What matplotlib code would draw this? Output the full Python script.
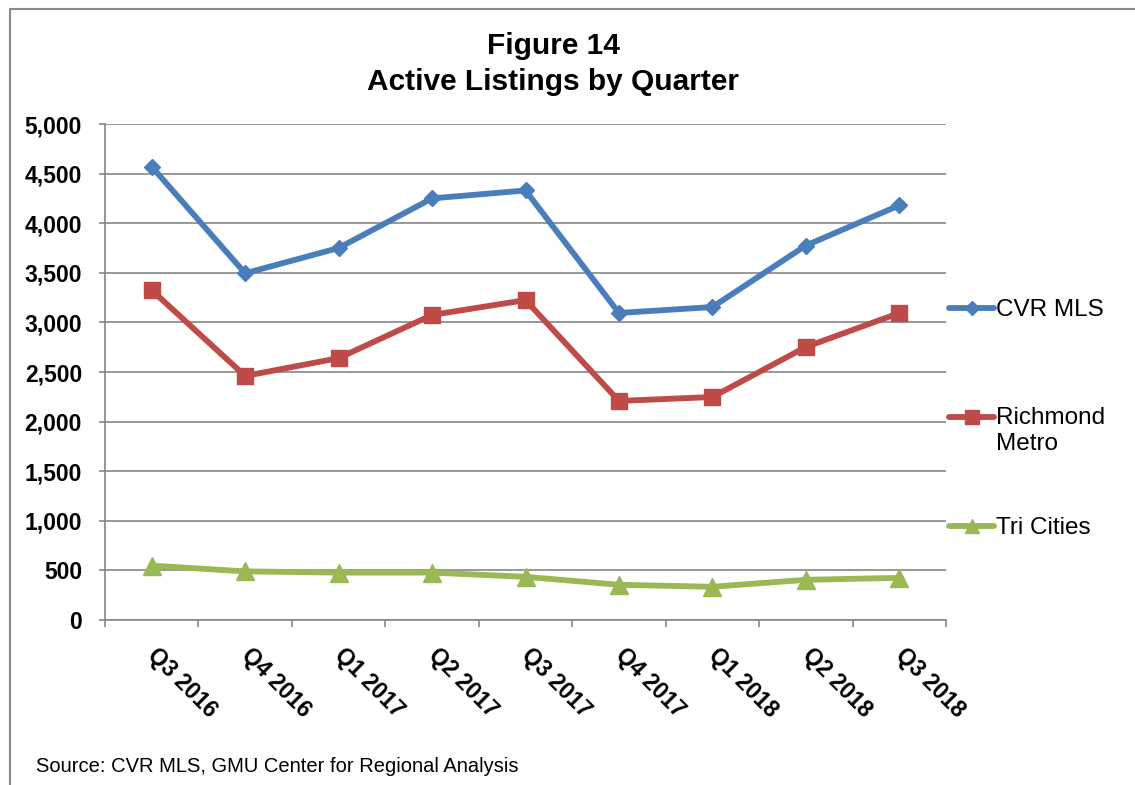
import matplotlib
matplotlib.use("Agg")
import matplotlib.pyplot as plt
from matplotlib.lines import Line2D
from matplotlib.transforms import ScaledTranslation
import numpy as np

plt.rcParams['font.family'] = ['Liberation Sans', 'DejaVu Sans']

quarters = ["Q3 2016", "Q4 2016", "Q1 2017", "Q2 2017", "Q3 2017",
            "Q4 2017", "Q1 2018", "Q2 2018", "Q3 2018"]
cvr_mls = [4570, 3495, 3750, 4250, 4330, 3095, 3155, 3775, 4180]
richmond = [3325, 2460, 2640, 3075, 3225, 2208, 2248, 2752, 3095]
tri_cities = [548, 490, 478, 478, 435, 355, 335, 405, 425]

series = [
    ("CVR MLS", cvr_mls, "#4A7EBB", "D", 8.5),
    ("Richmond\nMetro", richmond, "#BE4B48", "s", 12),
    ("Tri Cities", tri_cities, "#98B954", "^", 12.5),
]

W, H = 1135, 785
fig = plt.figure(figsize=(W / 100, H / 100), dpi=100)
ax = fig.add_axes([105 / W, 1 - 620 / H, (946 - 105) / W, (620 - 124) / H])

x = np.arange(len(quarters))
for name, vals, col, mk, ms in series:
    ax.plot(x, vals, color=col, lw=4.2, marker=mk, markersize=ms,
            markerfacecolor=col, markeredgecolor=col, solid_joinstyle='miter', zorder=3)

grey = "#868686"
ax.set_xlim(-0.5, len(quarters) - 0.5)
ax.set_ylim(0, 5000)
ax.set_yticks(np.arange(0, 5001, 500))
ax.set_yticklabels([f"{v:,}" for v in range(0, 5001, 500)], fontsize=16.5, fontweight='bold')
ax.grid(axis='y', color=grey, lw=1.2)
ax.set_axisbelow(True)

ax.set_xticks(x)
ax.set_xticklabels(quarters, fontsize=16.5, fontweight='bold', rotation=-45,
                   ha='left', va='top', rotation_mode='anchor')
ax.set_xticks(np.arange(-0.5, len(quarters), 1), minor=True)
ax.tick_params(axis='x', which='major', length=0, pad=17)
ax.tick_params(axis='x', which='minor', length=5, width=1.2, color=grey, direction='out')
ax.tick_params(axis='y', length=4.5, width=1.2, color=grey, pad=12)
shift = ScaledTranslation(8 / 100, 0, fig.dpi_scale_trans)
for lab in ax.get_xticklabels():
    lab.set_transform(lab.get_transform() + shift)

for s in ['top', 'right']:
    ax.spines[s].set_visible(False)
for s in ['left', 'bottom']:
    ax.spines[s].set_color(grey)
    ax.spines[s].set_linewidth(1.2)

# legend on the right, drawn by hand so the handle sits on the first text line
leg_y = [308, 417, 526]
text_y = [308, 427, 526]
for (name, vals, col, mk, ms), yy, ty in zip(series, leg_y, text_y):
    fy = 1 - yy / H
    fig.add_artist(Line2D([949 / W, 971.5 / W, 994 / W], [fy, fy, fy], color=col, lw=4.2,
                          marker=mk, markersize=ms * 0.8, markevery=[1],
                          solid_capstyle='round', transform=fig.transFigure))
    fig.text(996 / W, 1 - ty / H, name, fontsize=17.5, va='center_baseline', ha='left')

fig.text(553 / W, 1 - 57 / H, "Figure 14\nActive Listings by Quarter", fontsize=21.5,
         fontweight='bold', ha='center', va='center_baseline', linespacing=1.35)

fig.text(36 / W, 1 - 766 / H, "Source: CVR MLS, GMU Center for Regional Analysis",
         fontsize=14.5, va='center')

# outer frame
fig.add_artist(Line2D([10 / W, 10 / W, 1], [0, 1 - 9 / H, 1 - 9 / H], color="#898989",
                      lw=1.5, transform=fig.transFigure))

fig.savefig("out.png", dpi=100)
